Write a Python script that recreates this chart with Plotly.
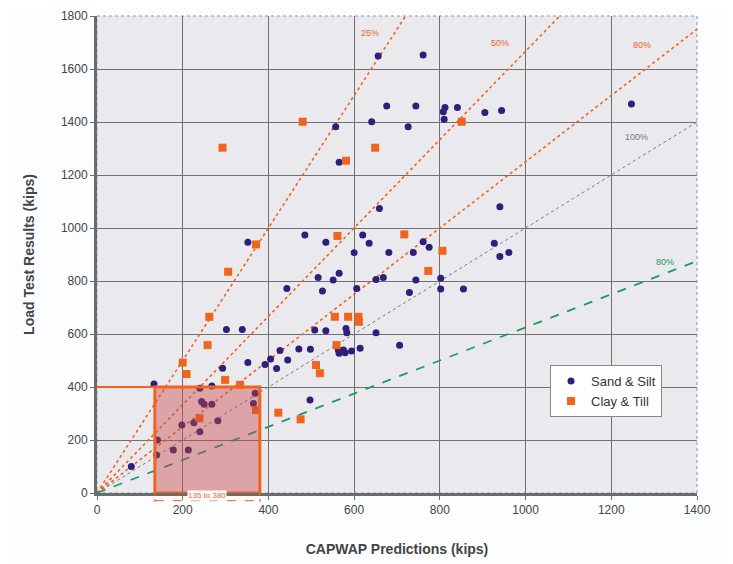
import plotly.graph_objects as go

# Sand & Silt (CAPWAP, Load test) in kips
sand_x = [656, 761, 676, 744, 812, 841, 808, 810, 905, 944, 1247, 557, 641, 726, 565, 659, 940,
          485, 534, 620, 635, 600, 681, 352, 761, 775, 738, 927, 940, 961,
          516, 551, 565, 651, 668, 744, 802, 443, 526, 606, 729, 802, 855,
          302, 339, 508, 534, 581, 583, 651, 706,
          427, 471, 498, 563, 575, 565, 579, 594, 614,
          293, 352, 392, 405, 419, 445,
          133, 240, 268, 244, 250, 268, 365, 369, 497, 226, 282, 198, 240, 141, 178, 213, 139, 80]
sand_y = [1649, 1653, 1460, 1460, 1455, 1455, 1439, 1410, 1436, 1443, 1468, 1382, 1401, 1382, 1248, 1074, 1080,
          974, 946, 974, 942, 907, 908, 946, 948, 927, 908, 942, 892, 908,
          813, 804, 829, 806, 813, 804, 810, 772, 762, 772, 757, 770, 770,
          617, 617, 615, 612, 621, 605, 605, 558,
          538, 543, 542, 540, 540, 527, 529, 536, 546,
          471, 492, 485, 506, 470, 502,
          411, 395, 404, 345, 335, 335, 338, 376, 351, 265, 273, 257, 231, 200, 162, 162, 143, 100]

# Clay & Till
clay_x = [480, 293, 649, 581, 851, 561, 717, 371, 806, 773, 306, 262, 555, 586, 610, 611,
          258, 559, 200, 209, 511, 520, 299, 334, 371, 423, 475, 239]
clay_y = [1401, 1303, 1303, 1254, 1401, 970, 976, 938, 914, 838, 835, 665, 665, 665, 665, 646,
          558, 558, 492, 449, 483, 452, 427, 408, 313, 303, 278, 282]

# Reference lines: slope (Load / CAPWAP), label, label position
line_slopes = [2.5, 1.667, 1.25, 1.0, 0.625]
line_labels = ["25%", "50%", "80%", "100%", "80%"]
label_x = [637, 940, 1271, 1259, 1325]
label_y = [1736, 1698, 1690, 1345, 873]

x_ticks = [0, 200, 400, 600, 800, 1000, 1200, 1400]
y_ticks = [0, 200, 400, 600, 800, 1000, 1200, 1400, 1600, 1800]

box_x = [135, 380]
box_top = 400
box_text = "135 to 380"

ORANGE = "#f0641e"
BLUE = "#2e1f7a"
line_colors = [ORANGE, ORANGE, ORANGE, "#7a7a7a", "#1f9a6a"]
line_dash = ["dot", "dot", "dot", "dot", "dash"]
line_width = [1.6, 1.6, 1.6, 1.0, 1.8]

fig = go.Figure()

for s, c, d, w in zip(line_slopes, line_colors, line_dash, line_width):
    xe = min(1400, 1800 / s)
    fig.add_trace(go.Scatter(x=[0, xe], y=[0, s * xe], mode="lines",
                             line=dict(color=c, dash=d, width=w),
                             showlegend=False, hoverinfo="skip"))

fig.add_trace(go.Scatter(x=sand_x, y=sand_y, mode="markers", name="Sand & Silt",
                         marker=dict(symbol="circle", size=7, color=BLUE)))
fig.add_trace(go.Scatter(x=clay_x, y=clay_y, mode="markers", name="Clay & Till",
                         marker=dict(symbol="square", size=8, color=ORANGE)))

for t, lx, ly, c in zip(line_labels, label_x, label_y, line_colors):
    fig.add_annotation(x=lx, y=ly, text=t, showarrow=False,
                       font=dict(size=9, color=c, family="Liberation Sans"))

# highlighted box
fig.add_shape(type="rect", x0=box_x[0], x1=box_x[1], y0=0, y1=box_top,
              fillcolor="rgba(205,70,70,0.42)", line=dict(color=ORANGE, width=3), layer="above")
fig.add_shape(type="line", x0=0, x1=box_x[0], y0=box_top, y1=box_top,
              line=dict(color=ORANGE, width=2), layer="above")
for bx in box_x:
    fig.add_shape(type="line", x0=bx, x1=bx, y0=0, y1=-0.024, xref="x", yref="paper",
                  line=dict(color=ORANGE, width=1.2, dash="dot"))
fig.add_shape(type="line", x0=box_x[0], x1=box_x[1], y0=-0.016, y1=-0.016, xref="x", yref="paper",
              line=dict(color=ORANGE, width=1, dash="dash"))
fig.add_annotation(x=(box_x[0] + box_x[1]) / 2, y=-0.016, xref="x", yref="paper",
                   text=box_text, showarrow=False, bgcolor="#fbfdff", borderpad=0,
                   font=dict(size=8, color=ORANGE, family="Liberation Sans"))

# dotted outer border (top / right)
fig.add_shape(type="rect", x0=0, x1=1, y0=0, y1=1, xref="paper", yref="paper",
              line=dict(color="#9090a8", width=1, dash="dot"), layer="below")

axis_font = dict(family="Liberation Sans", size=12, color="#444")
fig.update_xaxes(range=[0, 1400], tickvals=x_ticks, showgrid=True, gridcolor="#707070", gridwidth=1.3,
                 showline=True, linecolor="#6c6c6c", linewidth=3, ticks="outside", ticklen=4,
                 tickcolor="#6c6c6c", tickfont=axis_font, zeroline=False, automargin=False,
                 title=dict(text="<b>CAPWAP Predictions (kips)</b>",
                            font=dict(family="Liberation Sans", size=14, color="#444"), standoff=28))
fig.update_yaxes(range=[0, 1800], tickvals=y_ticks, showgrid=True, gridcolor="#707070", gridwidth=1.3,
                 showline=True, linecolor="#6c6c6c", linewidth=3, ticks="outside", ticklen=4,
                 tickcolor="#6c6c6c", tickfont=axis_font, zeroline=False, automargin=False,
                 title=dict(text="<b>Load Test Results (kips)</b>",
                            font=dict(family="Liberation Sans", size=14, color="#444"), standoff=23))

# page body has an 8px margin, so margins are offset to place the plot area correctly
fig.update_layout(
    width=733, height=564,
    margin=dict(l=89, r=44, t=8, b=79),
    plot_bgcolor="#e9e9ee", paper_bgcolor="#fbfdff",
    legend=dict(x=0.755, y=0.268, xanchor="left", yanchor="top", bgcolor="white",
                bordercolor="#888", borderwidth=1, font=dict(family="Liberation Sans", size=13, color="#333"),
                itemwidth=30, tracegroupgap=2),
    showlegend=True,
)

fig.write_html("out.html")
